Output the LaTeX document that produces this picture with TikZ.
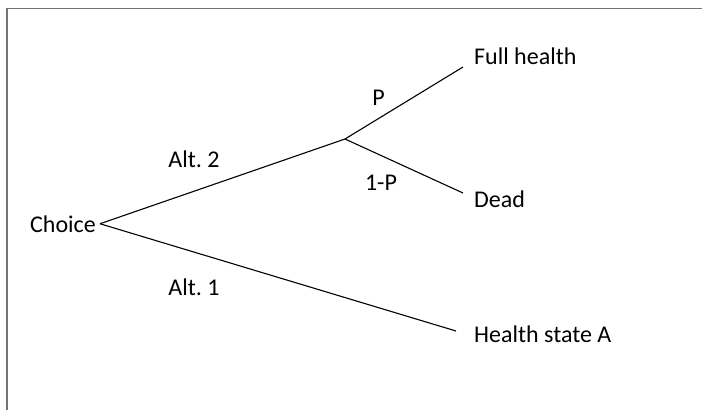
\documentclass[tikz,border=0pt]{standalone}
\usepackage{fontspec}
\setmainfont{Carlito}
\frenchspacing

\begin{document}
\begin{tikzpicture}[x=1pt,y=-1pt]
    \useasboundingbox (0,0) rectangle (702,410);
    \draw[gray!90!black, line width=1.5pt] (7,410) -- (7,8.5) -- (702,8.5);

    \begin{scope}[every node/.style={font=\fontsize{24}{28}\selectfont, inner sep=0pt}]
        \node[anchor=base east, inner xsep=4pt] (choice) at (100,232) {Choice};
        \node[anchor=base west] (fh) at (474,64) {Full health};
        \node[anchor=base west] (dead) at (474,207) {Dead};
        \node[anchor=base west] (hsA) at (474,342) {Health state A};
        \node[anchor=base] (alt2) at (194,167) {Alt. 2};
        \node[anchor=base] (alt1) at (194,295) {Alt. 1};
        \node[anchor=base] (p) at (378.5,105) {P};
        \node[anchor=base] (oneminusp) at (381,190) {1-P};
    \end{scope}

    \coordinate (chance) at (345,139);
    \coordinate (fhEnd) at (463,67);
    \coordinate (deadEnd) at (463,193);
    \coordinate (hsAEnd) at (456,331);

    \begin{scope}[every edge/.style={draw=black, line width=1.1pt}]
        \path (choice.east) edge (chance);
        \path (choice.east) edge (hsAEnd);
        \path (chance) edge (fhEnd);
        \path (chance) edge (deadEnd);
    \end{scope}
\end{tikzpicture}
\end{document}
